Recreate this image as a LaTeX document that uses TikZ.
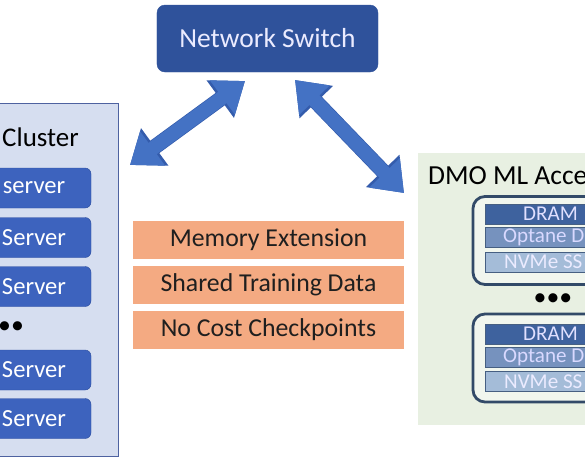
\documentclass[tikz,border=0pt]{standalone}
\usepackage{fontspec}
\setmainfont{Carlito}
\usetikzlibrary{arrows.meta,positioning}

\definecolor{switchblue}{RGB}{47,82,155}
\definecolor{serverblue}{RGB}{61,99,190}
\definecolor{serverline}{RGB}{45,78,160}
\definecolor{clusterfill}{RGB}{214,222,240}
\definecolor{clusterline}{RGB}{78,98,160}
\definecolor{accfill}{RGB}{232,240,226}
\definecolor{groupline}{RGB}{50,74,104}
\definecolor{dramfill}{RGB}{62,98,158}
\definecolor{optanefill}{RGB}{118,146,190}
\definecolor{nvmefill}{RGB}{164,188,216}
\definecolor{barline}{RGB}{70,95,130}
\definecolor{orangefill}{RGB}{244,170,130}
\definecolor{arrowblue}{RGB}{68,114,196}
\definecolor{arrowline}{RGB}{52,92,172}

\tikzset{
	bigtext/.style={font=\fontsize{22}{26}\selectfont},
	switchbox/.style={draw=switchblue, fill=switchblue, rounded corners=0.24cm, text=white!92!blue, font=\fontsize{23.5}{27}\selectfont},
	clusterbox/.style={draw=clusterline, line width=0.8pt, fill=clusterfill},
	serverbox/.style={draw=serverline, fill=serverblue, rounded corners=0.18cm, text=white, minimum width=3.42cm, minimum height=1.2cm, font=\fontsize{21}{25}\selectfont},
	featurebar/.style={fill=orangefill, minimum width=8.13cm, minimum height=1.14cm, text=black!88, bigtext},
	groupbox/.style={draw=groupline, line width=2.4pt, fill=accfill!60!white, rounded corners=0.36cm, minimum width=4.41cm, minimum height=2.64cm},
	membar/.style={draw=barline, line width=0.6pt, minimum width=4.05cm, minimum height=0.6cm},
	memtext/.style={anchor=west, font=\fontsize{18}{21}\selectfont},
	bigarrow/.style={draw=arrowblue, line width=0.42cm, {Triangle[width=0pt 2.9,length=0pt 2.0]}-{Triangle[width=0pt 2.9,length=0pt 2.0]},
		preaction={draw=arrowline, line width=0.46cm}}
}

\begin{document}
\begin{tikzpicture}[x=0.03cm,y=-0.03cm]
	%%%%% START %%%%%
	\useasboundingbox (0,0) rectangle (585,466);
	\clip (0,0) rectangle (585,466);
	
	\node[switchbox, minimum width=6.63cm, minimum height=2.01cm] (switch) at (267.5,38.5) {Network Switch};
	
	% cluster on the left
	\node[clusterbox, minimum width=4.2cm, minimum height=10.59cm] (cluster) at (48,279.5) {};
	\node[font=\fontsize{23}{27}\selectfont, anchor=west, inner sep=0pt] (clustertitle) at (2,137) {Cluster};
	\node[serverbox] (srvA) at (34,188) {server};
	\node[serverbox] (srvB) at (34,237.5) {Server};
	\node[serverbox] (srvC) at (34,286.5) {Server};
	\node[bigtext, anchor=west, inner sep=0pt] (srvdots) at (-2,328) {••};
	\node[serverbox] (srvD) at (34,370) {Server};
	\node[serverbox] (srvE) at (34,418.5) {Server};
	
	% features in the middle
	\node[featurebar] (featA) at (268.5,240) {Memory Extension};
	\node[featurebar] (featB) at (268.5,285) {Shared Training Data};
	\node[featurebar] (featC) at (268.5,330) {No Cost Checkpoints};
	
	% accelerator on the right
	\node[fill=accfill, minimum width=6.06cm, minimum height=8.16cm] (acc) at (519,289) {};
	\node[font=\fontsize{23.5}{27}\selectfont, anchor=west, inner sep=0pt] (acctitle) at (428,176) {DMO ML Acce};
	
	\node[groupbox] (groupA) at (546.5,240.5) {};
	\node[membar, fill=dramfill] (dramA) at (552.5,214) {};
	\node[membar, fill=optanefill] (optaneA) at (552.5,237.5) {};
	\node[membar, fill=nvmefill] (nvmeA) at (552.5,262) {};
	\node[memtext, text=white!88!blue] at (519,214) {DRAM};
	\node[memtext, text=white!85!blue] at (499,237.5) {Optane D};
	\node[memtext, text=white!92!blue] at (500,262) {NVMe SS};
	
	\node[bigtext, inner sep=0pt] (accdots) at (553,300) {•••};
	
	\node[groupbox] (groupB) at (546.5,358) {};
	\node[membar, fill=dramfill] (dramB) at (552.5,334) {};
	\node[membar, fill=optanefill] (optaneB) at (552.5,357) {};
	\node[membar, fill=nvmefill] (nvmeB) at (552.5,381.5) {};
	\node[memtext, text=white!88!blue] at (519,334) {DRAM};
	\node[memtext, text=white!85!blue] at (499,357) {Optane D};
	\node[memtext, text=white!92!blue] at (500,381.5) {NVMe SS};
	
	% links to the switch
	\coordinate (swL) at (245,81);
	\coordinate (swR) at (295,80);
	\coordinate (clEnd) at (130,165);
	\coordinate (accEnd) at (404,193);
	\draw[bigarrow] (clEnd) -- (swL);
	\draw[bigarrow] (swR) -- (accEnd);
	
	%%%%% END %%%%%
\end{tikzpicture}
\end{document}
